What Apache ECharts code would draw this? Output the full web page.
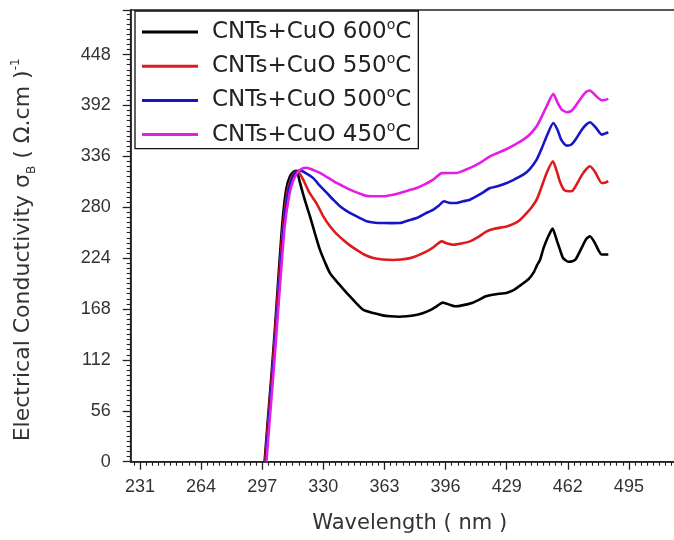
<!DOCTYPE html>
<html>
<head>
<meta charset="utf-8">
<script src="https://cdn.jsdelivr.net/npm/echarts@6/dist/echarts.min.js"></script>
<style>
html,body{margin:0;padding:0;background:#fff;}
#chart{width:674px;height:540px;}
</style>
</head>
<body>
<div id="chart"></div>
<script>
// Series names
const seriesNames = ['CNTs+CuO 600°C', 'CNTs+CuO 550°C', 'CNTs+CuO 500°C', 'CNTs+CuO 450°C'];

// CNTs+CuO 600°C
const x600 = [298.3,300,302,304,306,308,310,312,314,315.6,317.4,320,322.8,325.5,328.2,331,333.6,337.2,340.8,344.4,348,351.6,357,362,366,371,375,380,384,388,391.2,394.5,398.4,401.4,405,410.7,414,417.7,422.3,429.3,433,436.2,440.9,443.5,445.5,447,449,451.5,453.8,456,458,459.5,462.3,464.5,466.4,469.9,472,474,476.8,478.5,480.3,483.9];
const y600 = [0,45,95,150,210,265,300,314,319,320,307,288,270,251,233,219,207.5,198.4,190,181.8,174,167,163.5,161,160,159.5,160,161.5,163.5,167,171,175,172.6,171,172,175,178,182,184,186,189,193.7,201,208,216.5,222,235.5,248,256.5,244,232,224,220,220.5,223,237,245,248,240,233,228,228];

// CNTs+CuO 550°C
const x550 = [298.6,300.3,302.3,304.3,306.4,308.4,310.5,312.5,314.5,316.2,319.2,322.5,326.4,330,333.6,337,340.8,344.4,348,352,357,362,367.8,372,376.8,380.5,385.8,389.5,393.9,397,400.2,404.5,409.2,413.5,418.2,422.3,429,433,436.2,439.8,442.5,445.2,447.8,450.6,454,456,457.8,460,462.3,464.5,466.4,469.5,472,474,477,480.3,482,483.9];
const y550 = [0,45,95,150,210,262,296,311,318,319.5,310,296,284,270,259,251,244,238,233,228,224,222.5,222,222.5,224,226.5,231.4,236,242.4,240,238.7,240,242.4,247,253.4,256.3,258.9,262,266,273.6,280,288.3,302,317.7,330.5,320,308,299,297.5,298,303.7,315,322,325,318,306.6,307,308.5];

// CNTs+CuO 500°C
const x500 = [298.9,300.6,302.6,304.7,306.8,308.8,311,313,315,317.5,321,324.6,328,331.8,335.5,339,342.5,346.2,349.8,353.4,358,362.4,367,371.4,375.9,380.4,385,389.4,392.5,395.2,398.4,402,405.5,409.2,414.5,420,424,429,433.5,438,441.5,445.2,448,450.6,454.2,456.5,458.5,461.4,464,466.4,469.5,472,474,477,480.3,482,483.9];
const y500 = [0,45,95,150,210,262,296,311,318,320.5,317,312,304,296,288,281,276,271.8,268,264.5,263,262.6,262.5,262.6,265.5,268.1,273,277.3,282,286.5,284.6,284.6,286.5,288.3,294,301.1,303,306.6,311,315.8,322,332.3,345,358,372.7,365,354,347.8,349,355,365,371,373.5,368,359.9,361,362.5];

// CNTs+CuO 450°C
const x450 = [299.3,301,303,305,307.2,309.2,311.5,313.5,316,318.5,321,324.5,328.2,332.5,337.2,340.8,344.4,349,353.4,358,362.4,367,371.4,376,380.4,385,389.4,393.9,397,402,406.5,411,415.5,420,424.5,429,433.5,438,441.5,445.2,448,450.6,454.2,456.5,458.5,461.4,464,466.4,469.5,472,474,477,480.3,482,483.9];
const y450 = [0,45,95,150,210,260,292,308,318,322.5,323.5,321,317.7,312.5,306.7,303,299.3,295.5,292.5,292,292,293.5,295.7,298.5,301.2,305.5,310.4,317.5,317.7,317.7,321,325,330,336,340,344.1,349,354.4,360,369,380,391.1,404.7,395,388,384.5,386,392,401,407,408.4,403,397.7,398,399.2];

// Axis ticks
const xTicks = [231, 264, 297, 330, 363, 396, 429, 462, 495, 528];
const yTicks = [0, 56, 112, 168, 224, 280, 336, 392, 448];
const xRange = [226, 530];
const yRange = [0, 497];
const xMinorPerMajor = 10;
const yMinorPerMajor = 10;

// minor tick positions derived from the major tick lists
const xStep = xTicks[1] - xTicks[0];
const xMinor = [];
for (let m = xTicks[0] - xStep; m < xRange[1]; m += xStep) {
  for (let k = 1; k < xMinorPerMajor; k++) {
    const v = Math.round((m + k * xStep / xMinorPerMajor) * 1000) / 1000;
    if (v > xRange[0] && v < xRange[1]) xMinor.push(v);
  }
}

const colors = ['#000000', '#dc1c1c', '#1616c8', '#e41ee4'];
const xs = [x600, x550, x500, x450];
const ys = [y600, y550, y500, y450];

const chart = echarts.init(document.getElementById('chart'), null, {renderer: 'canvas'});

const series = seriesNames.map((name, i) => ({
  name: name,
  type: 'line',
  xAxisIndex: 0,
  yAxisIndex: 0,
  data: xs[i].map((x, k) => [x, ys[i][k]]),
  symbol: 'none',
  smooth: 0.2,
  lineStyle: {color: colors[i], width: 2.6},
  itemStyle: {color: colors[i]},
  z: 2 + i
}));

const axisColor = '#222';
const tickFont = {fontFamily: 'Liberation Sans', fontSize: 18, color: '#333'};

chart.setOption({
  animation: false,
  backgroundColor: '#fff',
  grid: {
    left: 130.7, top: 10, right: -19.7, bottom: 78.3,
    show: true, borderColor: axisColor, borderWidth: 1.6,
    containLabel: false, outerBoundsMode: 'none'
  },
  legend: {
    orient: 'vertical',
    left: 135, top: 11,
    backgroundColor: '#fff',
    borderColor: '#111', borderWidth: 1.3, borderRadius: 0,
    padding: [7, 7, 0, 7],
    itemGap: 6.2,
    icon: 'rect',
    itemWidth: 56, itemHeight: 3,
    data: seriesNames,
    formatter: n => n.replace('°', '{sup|o}'),
    textStyle: {
      fontFamily: 'DejaVu Sans', fontSize: 23, color: '#222', lineHeight: 28,
      padding: [0, 0, 0, 9],
      rich: {
        sup: {fontFamily: 'DejaVu Sans', fontSize: 14, color: '#222', verticalAlign: 'top', lineHeight: 14}
      }
    }
  },
  xAxis: [{
    type: 'value', min: xRange[0], max: xRange[1],
    position: 'bottom',
    name: 'Wavelength ( nm )',
    nameLocation: 'middle', nameGap: 50,
    nameTextStyle: {fontFamily: 'DejaVu Sans', fontSize: 21, color: '#333', lineHeight: 24, padding: [0, 5, 0, 0]},
    axisLine: {show: true, onZero: false, lineStyle: {color: axisColor, width: 1.6}},
    axisTick: {show: true, inside: false, length: 8, customValues: xTicks, lineStyle: {color: axisColor, width: 1.3}},
    axisLabel: {...tickFont, margin: 16, customValues: xTicks},
    splitLine: {show: false}
  }, {
    type: 'value', min: xRange[0], max: xRange[1],
    position: 'bottom',
    axisLine: {show: false},
    axisTick: {show: true, inside: false, length: 4, customValues: xMinor, lineStyle: {color: axisColor, width: 1.1}},
    axisLabel: {show: false},
    splitLine: {show: false}
  }],
  yAxis: [{
    type: 'value', min: yRange[0], max: yRange[1], interval: yTicks[1] - yTicks[0],
    position: 'left',
    name: 'Electrical Conductivity σ{sub|B} ( Ω.cm ){sup|-1}',
    nameLocation: 'middle', nameGap: 93, nameRotate: 90,
    nameTextStyle: {
      fontFamily: 'DejaVu Sans', fontSize: 22, color: '#333', lineHeight: 28,
      padding: [0, 28, 0, 0],
      rich: {
        sub: {fontFamily: 'DejaVu Sans', fontSize: 12, color: '#333', verticalAlign: 'bottom', lineHeight: 12},
        sup: {fontFamily: 'DejaVu Sans', fontSize: 12, color: '#333', verticalAlign: 'top', lineHeight: 12}
      }
    },
    axisLine: {show: true, onZero: false, lineStyle: {color: axisColor, width: 1.6}},
    axisTick: {show: true, inside: false, length: 8, lineStyle: {color: axisColor, width: 1.3}},
    minorTick: {show: true, splitNumber: yMinorPerMajor, length: 4, lineStyle: {color: axisColor, width: 1.1}},
    axisLabel: {
      ...tickFont, margin: 20,
      formatter: v => (yTicks.indexOf(v) >= 0 ? String(v) : '')
    },
    splitLine: {show: false},
    minorSplitLine: {show: false}
  }],
  series: series
});
</script>
</body>
</html>
